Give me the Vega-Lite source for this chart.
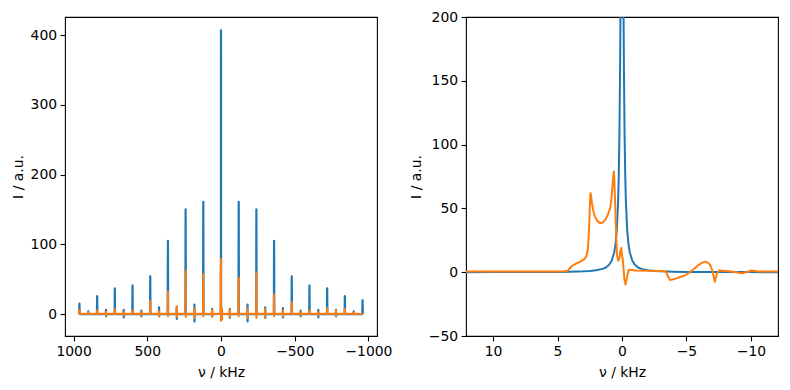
{
"$schema": "https://vega.github.io/schema/vega-lite/v6.json",
"padding": {"left": 10, "top": 9, "right": 10, "bottom": 5},
"bounds": "flush",
"spacing": 89,
"datasets": {
"blue": [
{"nu":962,"I":0},{"nu":960,"I":15},{"nu":958.5,"I":0},
{"nu":901.5,"I":0},{"nu":900,"I":3.8},{"nu":898.5,"I":0},
{"nu":841.5,"I":0},{"nu":840,"I":25.8},{"nu":838.5,"I":0},
{"nu":781.5,"I":0},{"nu":780,"I":6},{"nu":779.7,"I":-3.3},{"nu":778.5,"I":0},
{"nu":721.5,"I":0},{"nu":720,"I":36.7},{"nu":718.5,"I":0},
{"nu":661.5,"I":0},{"nu":660,"I":6},{"nu":659.7,"I":-4.8},{"nu":658.5,"I":0},
{"nu":601.5,"I":0},{"nu":600,"I":41},{"nu":598.5,"I":0},
{"nu":541.5,"I":0},{"nu":540,"I":4.8},{"nu":539.7,"I":-3.3},{"nu":538.5,"I":0},
{"nu":481.5,"I":0},{"nu":480,"I":54},{"nu":478.5,"I":0},
{"nu":421.5,"I":0},{"nu":420,"I":9.5},{"nu":419.7,"I":-3.3},{"nu":418.5,"I":0},
{"nu":361.5,"I":0},{"nu":360,"I":105},{"nu":358.5,"I":0},
{"nu":301.5,"I":0},{"nu":300,"I":10},{"nu":299.7,"I":-7},{"nu":298.5,"I":0},
{"nu":241.5,"I":0},{"nu":240,"I":150},{"nu":238.5,"I":0},
{"nu":181.5,"I":0},{"nu":180,"I":13.4},{"nu":179.7,"I":-10.7},{"nu":178.5,"I":0},
{"nu":121.5,"I":0},{"nu":120,"I":161},{"nu":118.5,"I":0},
{"nu":61.5,"I":0},{"nu":60,"I":7.6},{"nu":59.7,"I":-3.3},{"nu":58.5,"I":0},
{"nu":12,"I":0.04},{"nu":10,"I":0.06},{"nu":8,"I":0.09},{"nu":6,"I":0.16},{"nu":5,"I":0.23},{"nu":4,"I":0.37},{"nu":3,"I":0.65},{"nu":2.5,"I":0.94},{"nu":2,"I":1.46},{"nu":1.5,"I":2.6},{"nu":1.25,"I":3.7},{"nu":1,"I":5.8},{"nu":0.8,"I":9},{"nu":0.6,"I":15.7},{"nu":0.5,"I":22.2},{"nu":0.4,"I":33.6},{"nu":0.3,"I":56.1},{"nu":0.25,"I":76.2},{"nu":0.2,"I":107.7},{"nu":0.15,"I":158.8},{"nu":0.12,"I":203.5},{"nu":0.09,"I":260},{"nu":0.06,"I":325.6},{"nu":0.03,"I":383},{"nu":0,"I":407},
{"nu":-0.03,"I":383},{"nu":-0.06,"I":325.6},{"nu":-0.09,"I":260},{"nu":-0.12,"I":203.5},{"nu":-0.15,"I":158.8},{"nu":-0.2,"I":107.7},{"nu":-0.25,"I":76.2},{"nu":-0.3,"I":56.1},{"nu":-0.4,"I":33.6},{"nu":-0.5,"I":22.2},{"nu":-0.6,"I":15.7},{"nu":-0.8,"I":9},{"nu":-1,"I":5.8},{"nu":-1.25,"I":3.7},{"nu":-1.5,"I":2.6},{"nu":-2,"I":1.46},{"nu":-2.5,"I":0.94},{"nu":-3,"I":0.65},{"nu":-4,"I":0.37},{"nu":-5,"I":0.23},{"nu":-6,"I":0.16},{"nu":-8,"I":0.09},{"nu":-10,"I":0.06},{"nu":-12,"I":0.04},
{"nu":-58.5,"I":0},{"nu":-60,"I":7.6},{"nu":-60.3,"I":-5.7},{"nu":-61.5,"I":0},
{"nu":-118.5,"I":0},{"nu":-120,"I":161},{"nu":-121.5,"I":0},
{"nu":-178.5,"I":0},{"nu":-180,"I":13.4},{"nu":-180.3,"I":-10.7},{"nu":-181.5,"I":0},
{"nu":-238.5,"I":0},{"nu":-240,"I":150},{"nu":-241.5,"I":0},
{"nu":-298.5,"I":0},{"nu":-300,"I":9.5},{"nu":-300.3,"I":-5.7},{"nu":-301.5,"I":0},
{"nu":-358.5,"I":0},{"nu":-360,"I":105},{"nu":-361.5,"I":0},
{"nu":-418.5,"I":0},{"nu":-420,"I":8.6},{"nu":-420.3,"I":-4.8},{"nu":-421.5,"I":0},
{"nu":-478.5,"I":0},{"nu":-480,"I":54},{"nu":-481.5,"I":0},
{"nu":-538.5,"I":0},{"nu":-540,"I":4.8},{"nu":-540.3,"I":-3.3},{"nu":-541.5,"I":0},
{"nu":-598.5,"I":0},{"nu":-600,"I":41},{"nu":-601.5,"I":0},
{"nu":-658.5,"I":0},{"nu":-660,"I":6},{"nu":-660.3,"I":-4.8},{"nu":-661.5,"I":0},
{"nu":-718.5,"I":0},{"nu":-720,"I":36.7},{"nu":-721.5,"I":0},
{"nu":-778.5,"I":0},{"nu":-780,"I":6},{"nu":-780.3,"I":-3.3},{"nu":-781.5,"I":0},
{"nu":-838.5,"I":0},{"nu":-840,"I":25.8},{"nu":-841.5,"I":0},
{"nu":-898.5,"I":0},{"nu":-900,"I":3.8},{"nu":-901.5,"I":0},
{"nu":-958.5,"I":0},{"nu":-960,"I":20},{"nu":-962,"I":0}
],
"orange": [
{"nu":962,"I":0.5},{"nu":960,"I":6},{"nu":958.5,"I":0.5},
{"nu":901.5,"I":0.5},{"nu":900,"I":2},{"nu":898.5,"I":0.5},
{"nu":841.5,"I":0.5},{"nu":840,"I":5},{"nu":838.5,"I":0.5},
{"nu":781.5,"I":0.5},{"nu":780,"I":3},{"nu":779.7,"I":-2},{"nu":778.5,"I":0.5},
{"nu":721.5,"I":0.5},{"nu":720,"I":7},{"nu":718.5,"I":0.5},
{"nu":661.5,"I":0.5},{"nu":660,"I":3},{"nu":659.7,"I":-2},{"nu":658.5,"I":0.5},
{"nu":601.5,"I":0.5},{"nu":600,"I":5},{"nu":598.5,"I":0.5},
{"nu":541.5,"I":0.5},{"nu":540,"I":3},{"nu":539.7,"I":-2},{"nu":538.5,"I":0.5},
{"nu":481.5,"I":0.5},{"nu":480,"I":18.6},{"nu":478.5,"I":0.5},
{"nu":421.5,"I":0.5},{"nu":420,"I":4},{"nu":419.7,"I":-3},{"nu":418.5,"I":0.5},
{"nu":361.5,"I":0.5},{"nu":360,"I":32},{"nu":359.7,"I":-3},{"nu":358.5,"I":0.5},
{"nu":301.5,"I":0.5},{"nu":300,"I":11},{"nu":299.7,"I":-4},{"nu":298.5,"I":0.5},
{"nu":241.5,"I":0.5},{"nu":240,"I":62},{"nu":239.7,"I":-4},{"nu":238.5,"I":0.5},
{"nu":181.5,"I":0.5},{"nu":180,"I":8.6},{"nu":179.7,"I":-5.7},{"nu":178.5,"I":0.5},
{"nu":121.5,"I":0.5},{"nu":120,"I":57},{"nu":119.7,"I":-3},{"nu":118.5,"I":0.5},
{"nu":61.5,"I":0.5},{"nu":60,"I":6},{"nu":59.7,"I":-4},{"nu":58.5,"I":0.5},
{"nu":12.5,"I":0.5},{"nu":10,"I":0.5},{"nu":7,"I":0.5},{"nu":5,"I":0.6},{"nu":4.5,"I":0.8},{"nu":4.2,"I":1.2},{"nu":4.0,"I":3.5},{"nu":3.9,"I":4.8},{"nu":3.6,"I":6.5},{"nu":3.2,"I":8.5},{"nu":2.9,"I":10.5},{"nu":2.75,"I":13},{"nu":2.65,"I":18},{"nu":2.57,"I":30},{"nu":2.5,"I":50},{"nu":2.45,"I":62},{"nu":2.4,"I":60},{"nu":2.33,"I":54},{"nu":2.2,"I":47},{"nu":2.1,"I":43.5},{"nu":1.9,"I":40},{"nu":1.7,"I":38.5},{"nu":1.5,"I":39},{"nu":1.3,"I":41},{"nu":1.1,"I":45},{"nu":0.92,"I":50},{"nu":0.82,"I":57},{"nu":0.73,"I":68.5},{"nu":0.66,"I":77},{"nu":0.62,"I":79},{"nu":0.57,"I":65},{"nu":0.52,"I":50},{"nu":0.45,"I":28},{"nu":0.39,"I":13.8},{"nu":0.3,"I":9},{"nu":0.21,"I":10.5},{"nu":0.12,"I":17},{"nu":0.06,"I":19},{"nu":0,"I":13},{"nu":-0.06,"I":10},{"nu":-0.12,"I":3},{"nu":-0.18,"I":-5},{"nu":-0.27,"I":-9.6},{"nu":-0.35,"I":-6},{"nu":-0.43,"I":-1.8},{"nu":-0.52,"I":1.6},{"nu":-0.58,"I":2},{"nu":-1.06,"I":1.3},{"nu":-2,"I":1.1},{"nu":-3,"I":1.0},{"nu":-3.4,"I":0.8},{"nu":-3.55,"I":-3},{"nu":-3.72,"I":-6.2},{"nu":-4.1,"I":-5.2},{"nu":-4.5,"I":-3.8},{"nu":-4.88,"I":-2.6},{"nu":-5.2,"I":-0.5},{"nu":-5.53,"I":2.1},{"nu":-5.91,"I":5.5},{"nu":-6.2,"I":7.3},{"nu":-6.43,"I":8.3},{"nu":-6.65,"I":7.5},{"nu":-6.82,"I":6},{"nu":-7.02,"I":1.0},{"nu":-7.12,"I":-4},{"nu":-7.2,"I":-7.6},{"nu":-7.33,"I":-1.9},{"nu":-7.52,"I":1.3},{"nu":-7.85,"I":1.2},{"nu":-8.5,"I":0.5},{"nu":-9.27,"I":-0.8},{"nu":-9.7,"I":0.2},{"nu":-10.05,"I":1.3},{"nu":-10.57,"I":0.5},{"nu":-12.5,"I":0.5},
{"nu":-58.5,"I":0.5},{"nu":-60,"I":6},{"nu":-60.3,"I":-4},{"nu":-61.5,"I":0.5},
{"nu":-118.5,"I":0.5},{"nu":-120,"I":52},{"nu":-120.3,"I":-3},{"nu":-121.5,"I":0.5},
{"nu":-178.5,"I":0.5},{"nu":-180,"I":8},{"nu":-180.3,"I":-6},{"nu":-181.5,"I":0.5},
{"nu":-238.5,"I":0.5},{"nu":-240,"I":60},{"nu":-240.3,"I":-5.7},{"nu":-241.5,"I":0.5},
{"nu":-298.5,"I":0.5},{"nu":-300,"I":7},{"nu":-300.3,"I":-5},{"nu":-301.5,"I":0.5},
{"nu":-358.5,"I":0.5},{"nu":-360,"I":28},{"nu":-360.3,"I":-3},{"nu":-361.5,"I":0.5},
{"nu":-418.5,"I":0.5},{"nu":-420,"I":5},{"nu":-420.3,"I":-3},{"nu":-421.5,"I":0.5},
{"nu":-478.5,"I":0.5},{"nu":-480,"I":16.7},{"nu":-481.5,"I":0.5},
{"nu":-538.5,"I":0.5},{"nu":-540,"I":3},{"nu":-540.3,"I":-2},{"nu":-541.5,"I":0.5},
{"nu":-598.5,"I":0.5},{"nu":-600,"I":5},{"nu":-601.5,"I":0.5},
{"nu":-658.5,"I":0.5},{"nu":-660,"I":3},{"nu":-660.3,"I":-2},{"nu":-661.5,"I":0.5},
{"nu":-718.5,"I":0.5},{"nu":-720,"I":8.6},{"nu":-721.5,"I":0.5},
{"nu":-778.5,"I":0.5},{"nu":-780,"I":5},{"nu":-780.3,"I":-2},{"nu":-781.5,"I":0.5},
{"nu":-838.5,"I":0.5},{"nu":-840,"I":7.6},{"nu":-841.5,"I":0.5},
{"nu":-898.5,"I":0.5},{"nu":-900,"I":2},{"nu":-901.5,"I":0.5},
{"nu":-962,"I":0.5}
]
},
"hconcat": [
{
"width": 312, "height": 319,
"encoding": {
"x": {"field": "nu", "type": "quantitative", "scale": {"domain": [-1058, 1058], "reverse": true, "nice": false, "zero": false}, "axis": {"values": [1000, 500, 0, -500, -1000], "format": "d", "title": "ν / kHz", "titlePadding": 7}},
"y": {"field": "I", "type": "quantitative", "scale": {"domain": [-31.5, 426], "nice": false, "zero": false}, "axis": {"values": [0, 100, 200, 300, 400], "title": "I / a.u."}}
},
"layer": [
{"data": {"name": "blue"}, "mark": {"type": "line", "color": "#1f77b4", "strokeWidth": 2.2, "strokeJoin": "round", "clip": true}},
{"data": {"name": "orange"}, "mark": {"type": "line", "color": "#ff7f0e", "strokeWidth": 2.1, "strokeJoin": "round", "clip": true}}
]
},
{
"width": 312, "height": 319,
"encoding": {
"x": {"field": "nu", "type": "quantitative", "scale": {"domain": [-12.1, 12.1], "reverse": true, "nice": false, "zero": false}, "axis": {"values": [10, 5, 0, -5, -10], "format": "d", "title": "ν / kHz", "titlePadding": 7}},
"y": {"field": "I", "type": "quantitative", "scale": {"domain": [-50, 200], "nice": false, "zero": false}, "axis": {"values": [-50, 0, 50, 100, 150, 200], "format": "d", "title": "I / a.u."}}
},
"layer": [
{"data": {"name": "blue"}, "mark": {"type": "line", "color": "#1f77b4", "strokeWidth": 2, "strokeJoin": "round", "clip": true}},
{"data": {"name": "orange"}, "mark": {"type": "line", "color": "#ff7f0e", "strokeWidth": 2, "strokeJoin": "round", "clip": true}}
]
}
],
"config": {
"background": "white",
"view": {"stroke": "black", "strokeWidth": 1.1},
"axis": {"grid": false, "domain": false, "tickColor": "black", "tickSize": 4.9, "tickWidth": 1.1, "labelFont": "DejaVu Sans", "labelFontSize": 13.9, "labelColor": "black", "labelPadding": 3.5, "labelFlush": false, "labelOverlap": false, "titleFont": "DejaVu Sans", "titleFontSize": 13.9, "titleFontWeight": "normal", "titleColor": "black", "titlePadding": 5}
}
}
